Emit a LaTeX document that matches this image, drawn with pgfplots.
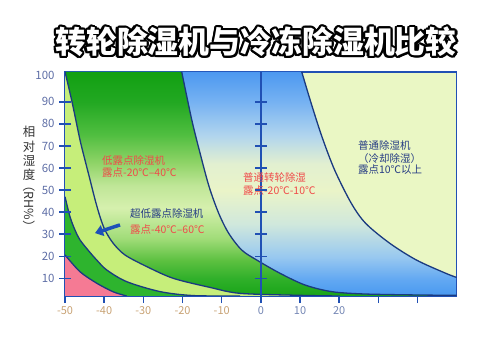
\documentclass[border=0pt]{standalone}
\usepackage{fontspec}
\setmainfont{Noto Sans CJK SC}
\usepackage{pgfplots}
\pgfplotsset{compat=1.18}
\usetikzlibrary{arrows.meta}
\usepackage{contour}
\contourlength{2.2bp}

\definecolor{frameblue}{HTML}{2050B4}
\definecolor{curvenavy}{HTML}{1A3A80}
\definecolor{paleyel}{HTML}{EAF7C4}
\definecolor{lightband}{HTML}{C6EE7A}
\definecolor{darkband}{HTML}{2EB42E}
\definecolor{pinkc}{HTML}{F57A94}
\definecolor{redtext}{HTML}{F04A4A}
\definecolor{navytext}{HTML}{263C84}
\definecolor{ticky}{HTML}{5E6EA6}
\definecolor{tanc}{HTML}{C8A274}
\definecolor{bluegray}{HTML}{7486B4}
\definecolor{arrowc}{HTML}{1E50B8}
\definecolor{labgray}{HTML}{333333}

\definecolor{g0}{HTML}{18A418}
\definecolor{g1}{HTML}{30B02A}
\definecolor{g2}{HTML}{5CC040}
\definecolor{g3}{HTML}{A0DC78}
\definecolor{g4}{HTML}{D6F0AE}
\definecolor{g5}{HTML}{C0E698}
\definecolor{g6}{HTML}{90D468}
\definecolor{g7}{HTML}{50BE40}
\definecolor{g8}{HTML}{22A822}
\definecolor{g9}{HTML}{12A012}
\pgfdeclareverticalshading{greensh}{100bp}{color(0bp)=(g0); color(25bp)=(g0); color(28.9bp)=(g1); color(32.9bp)=(g2); color(37.8bp)=(g3); color(44.7bp)=(g4); color(49.6bp)=(g5); color(54.6bp)=(g6); color(61bp)=(g7); color(68.3bp)=(g8); color(75bp)=(g9); color(100bp)=(g9)}

\definecolor{b0}{HTML}{4898F0}
\definecolor{b1}{HTML}{62A8F2}
\definecolor{b2}{HTML}{98C8F0}
\definecolor{b3}{HTML}{D0E8DC}
\definecolor{b4}{HTML}{EAF4C8}
\definecolor{b5}{HTML}{E2F0D0}
\definecolor{b6}{HTML}{B0D4EE}
\definecolor{b7}{HTML}{76B2F2}
\definecolor{b8}{HTML}{4C98F0}
\pgfdeclareverticalshading{bluesh}{100bp}{color(0bp)=(b0); color(25bp)=(b0); color(28.7bp)=(b1); color(33.7bp)=(b2); color(41.1bp)=(b3); color(48.5bp)=(b4); color(54.5bp)=(b5); color(60.9bp)=(b6); color(68.3bp)=(b7); color(75bp)=(b8); color(100bp)=(b8)}

\begin{document}
\begin{tikzpicture}
\useasboundingbox (0bp,0bp) rectangle (500bp,348bp);
\begin{axis}[
  at={(65bp,52bp)}, anchor=south west, scale only axis,
  width=391.7bp, height=224bp,
  xmin=-50, xmax=50, ymin=2, ymax=103.5,
  axis background/.style={fill=paleyel},
  axis line style={draw=frameblue, line width=1.3bp},
  tick align=outside, major tick length=7bp,
  xtick={-50,-40,-30,-20,-10,0,10,20,30,40},
  xticklabels={{\textcolor{tanc}{-50}},{\textcolor{tanc}{-40}},{\textcolor{tanc}{-30}},{\textcolor{tanc}{-20}},{\textcolor{tanc}{-10}},{\textcolor{bluegray}{0}},{\textcolor{bluegray}{10}},{\textcolor{bluegray}{20}},{},{}},
  xtick pos=bottom, ytick pos=left,
  xtick style={draw=frameblue, line width=1.5bp},
  ytick={10,20,30,40,50,60,70,80,90,102},
  yticklabels={10,20,30,40,50,60,70,80,90,100},
  ytick style={draw=none},
  xticklabel style={font=\fontsize{11}{12}\selectfont},
  yticklabel style={font=\fontsize{11.5}{12}\selectfont, text=ticky},
]
% regions (painter's order)
\addplot[draw=none, shade, shading=bluesh, smooth] coordinates {(10.43,103.6)(12.85,89.3)(15.59,74.2)(18.83,59.1)(23.09,44)(26.77,34.9)(32.9,25.9)(39.71,18.3)(47.19,12.3)(50,10.4)} -- (axis cs:50,2) -- (axis cs:-50,2) -- (axis cs:-50,103.6) -- cycle;
\addplot[draw=none, shade, shading=greensh, smooth] coordinates {(-20.21,103.6)(-17.63,81.75)(-15.51,66.66)(-13.21,51.53)(-10.76,39.47)(-8.21,30.41)(-4.89,22.84)(-1.06,18.31)(4.89,12.29)(11.27,6.98)(18.16,3.95)(26.59,2.9)(40.63,2.45)(50,2.3)} -- (axis cs:50,2) -- (axis cs:-50,2) -- (axis cs:-50,103.6) -- cycle;
\addplot[draw=none, fill=lightband, smooth] coordinates {(-50,103.6)(-48.2,89.9)(-46.17,72.7)(-44.9,63.6)(-43.6,54.6)(-42.3,45.5)(-41.06,37.9)(-39.8,31.9)(-37.7,25.9)(-34.7,20.6)(-29.1,15.3)(-22.35,10)(-13,5.9)(-5.3,3.2)(10,2.3)(20.2,2)} -- (axis cs:-50,2) -- cycle;
\addplot[draw=none, fill=darkband, smooth] coordinates {(-50,47)(-48.72,37.9)(-47.45,31.9)(-46.17,27.4)(-43.6,21.7)(-41.9,18.3)(-39.35,13.8)(-34.25,8.5)(-25.75,4.0)(-17.3,2.2)(-5.3,2)} -- (axis cs:-50,2) -- cycle;
\addplot[draw=none, fill=pinkc, smooth] coordinates {(-50,20.6)(-46.17,13)(-41.9,7.8)(-37.7,3.9)(-34.25,2)} -- (axis cs:-50,2) -- cycle;
% boundary curves
\addplot[curvenavy, line width=1.3bp, smooth] coordinates {(-50,20.6)(-46.17,13)(-41.9,7.8)(-37.7,3.9)(-34.25,2)};
\addplot[curvenavy, line width=1.3bp, smooth] coordinates {(-50,47)(-48.72,37.9)(-47.45,31.9)(-46.17,27.4)(-43.6,21.7)(-41.9,18.3)(-39.35,13.8)(-34.25,8.5)(-25.75,4.0)(-17.3,2.2)(-5.3,2)};
\addplot[curvenavy, line width=1.3bp, smooth] coordinates {(-50,103.6)(-48.2,89.9)(-46.17,72.7)(-44.9,63.6)(-43.6,54.6)(-42.3,45.5)(-41.06,37.9)(-39.8,31.9)(-37.7,25.9)(-34.7,20.6)(-29.1,15.3)(-22.35,10)(-13,5.9)(-5.3,3.2)(10,2.3)(20.2,2)};
\addplot[curvenavy, line width=1.3bp, smooth] coordinates {(-20.21,103.6)(-17.63,81.75)(-15.51,66.66)(-13.21,51.53)(-10.76,39.47)(-8.21,30.41)(-4.89,22.84)(-1.06,18.31)(4.89,12.29)(11.27,6.98)(18.16,3.95)(26.59,2.9)(40.63,2.45)(50,2.3)};
\addplot[curvenavy, line width=1.3bp, smooth] coordinates {(10.43,103.6)(12.85,89.3)(15.59,74.2)(18.83,59.1)(23.09,44)(26.77,34.9)(32.9,25.9)(39.71,18.3)(47.19,12.3)(50,10.4)};
% x = 0 line with ticks
\addplot[frameblue, line width=1.3bp] coordinates {(0,2)(0,103.5)};
\addplot[only marks, mark=-, mark size=6bp, mark options={line width=1.5bp, draw=frameblue}] coordinates {(-50,10)(-50,20)(-50,30)(-50,40)(-50,50)(-50,60)(-50,70)(-50,80)(-50,90)(0,10)(0,20)(0,30)(0,40)(0,50)(0,60)(0,70)(0,80)(0,90)};
% arrow
\addplot[arrowc, line width=3.5bp, -{Triangle[length=8bp,width=11bp]}] coordinates {(-35.96,34.2)(-42.34,30.5)};
% labels
\node[anchor=west, text=redtext, font=\fontsize{10.5}{12}\selectfont, inner sep=0pt] at (axis cs:-40.55,63.6) {低露点除湿机};
\node[anchor=west, text=redtext, font=\fontsize{10.5}{12}\selectfont, inner sep=0pt] at (axis cs:-40.55,57.9) {露点-20℃--40℃};
\node[anchor=west, text=navytext, font=\fontsize{10.5}{12}\selectfont, inner sep=0pt] at (axis cs:-33.4,39.2) {超低露点除湿机};
\node[anchor=west, text=redtext, font=\fontsize{10.5}{12}\selectfont, inner sep=0pt] at (axis cs:-33.4,31.9) {露点-40℃--60℃};
\node[anchor=west, text=redtext, font=\fontsize{10.5}{12}\selectfont, inner sep=0pt] at (axis cs:-4.56,55.9) {普通转轮除湿};
\node[anchor=west, text=redtext, font=\fontsize{10.5}{12}\selectfont, inner sep=0pt] at (axis cs:-4.56,50.0) {露点-20℃-10℃};
\node[anchor=west, text=navytext, font=\fontsize{10.5}{12}\selectfont, inner sep=0pt] at (axis cs:24.8,70.4) {普通除湿机};
\node[anchor=west, text=navytext, font=\fontsize{10.5}{12}\selectfont, inner sep=0pt] at (axis cs:24.8,64.5) {（冷却除湿）};
\node[anchor=west, text=navytext, font=\fontsize{10.5}{12}\selectfont, inner sep=0pt] at (axis cs:24.8,59.1) {露点10℃以上};
% shifted tick labels 30 40 50
\node[text=bluegray, font=\fontsize{11}{12}\selectfont, yshift=-25.7bp] at (axis cs:26.08,2) {30};
\node[text=bluegray, font=\fontsize{11}{12}\selectfont, yshift=-25.7bp] at (axis cs:35.53,2) {40};
\node[text=bluegray, font=\fontsize{11}{12}\selectfont, yshift=-25.7bp] at (axis cs:44.46,2) {50};
% x label
\node[text=labgray, font=\fontsize{12}{13}\selectfont, yshift=-35.7bp] at (axis description cs:0.503,0) {温度（ ℃ D.B. ）};
\end{axis}
% y label
\node[text=labgray, font=\fontsize{12.5}{13.5}\selectfont, anchor=north, inner sep=0pt] at (29bp,222bp) {\shortstack{相\\对\\湿\\度}};
\node[text=labgray, font=\fontsize{12.5}{13.5}\selectfont, rotate=-90] at (29bp,142bp) {（RH\%）};
% title
\node at (256bp,305bp) {\fontsize{31}{33}\selectfont\bfseries\contour{black}{\textcolor{white}{转轮除湿机与冷冻除湿机比较}}};
\end{tikzpicture}
\end{document}
